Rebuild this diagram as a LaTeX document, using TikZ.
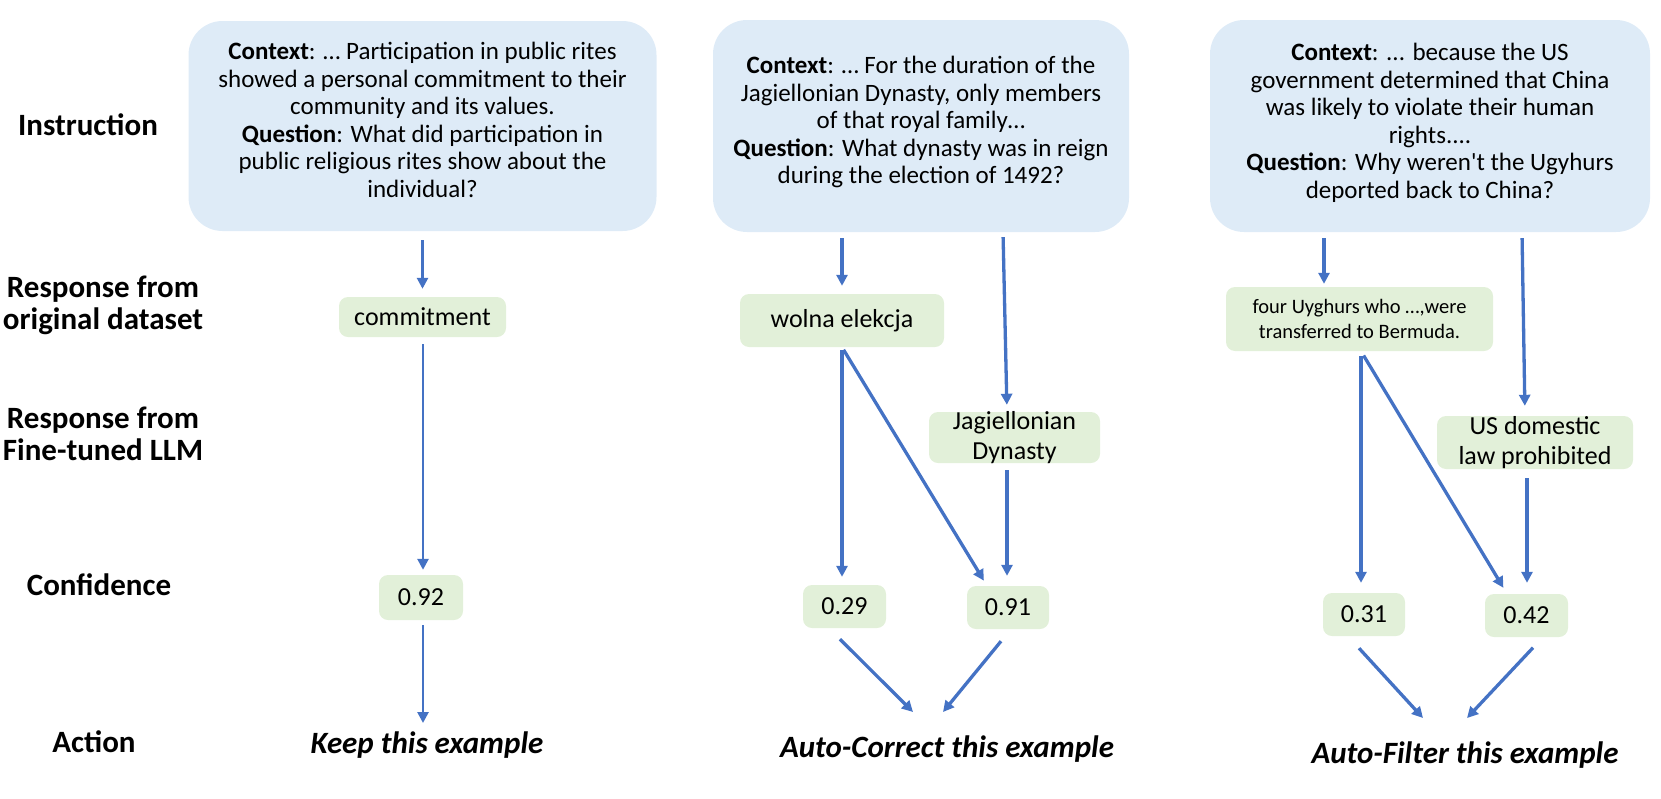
\documentclass[tikz,border=0pt]{standalone}
\usepackage{fontspec}
\setmainfont{Carlito}
\usetikzlibrary{arrows.meta}
\definecolor{qblue}{HTML}{DEEBF7}
\definecolor{agreen}{HTML}{E2F0D9}
\definecolor{arrblue}{HTML}{4472C4}
\begin{document}
\begin{tikzpicture}[x=1pt,y=-1pt,
  arr/.style={draw=arrblue,line width=3.3pt,-{Triangle[length=11pt,width=11pt]}},
  thinarr/.style={arr,line width=2.6pt},
  qbox/.style={fill=qblue,rounded corners=34pt,inner sep=0pt},
  qtext/.style={align=center,inner sep=0pt,font=\fontsize{25}{27.5}\selectfont},
  abox/.style={fill=agreen,rounded corners=9pt,inner sep=0pt,align=center,font=\fontsize{26}{30.5}\selectfont},
  atext/.style={align=center,inner sep=0pt,font=\fontsize{26}{30.5}\selectfont},
  lab/.style={align=center,inner sep=0pt,font=\fontsize{31}{32}\selectfont\bfseries},
  act/.style={inner sep=0pt,font=\fontsize{31}{32}\selectfont\bfseries\itshape},
]
\useasboundingbox (0,0) rectangle (1661,798);

% row labels
\node[lab] (lins) at (88,125) {Instruction};
\node[lab] (lorig) at (103,305) {Response from\\original dataset};
\node[lab] (lft) at (103,434) {Response from\\Fine-tuned LLM};
\node[lab] (lconf) at (99,585) {Confidence};
\node[lab] (lact) at (94,742) {Action};

% column 1
\node[qbox,minimum width=468,minimum height=210,
  label={[qtext,yshift=6pt]center:{\textbf{Context}: … Participation in public rites\\showed a personal commitment to their\\community and its values.\\\textbf{Question}: What did participation in\\public religious rites show about the\\individual?}}] (b1) at (422.5,126) {};
\node[abox,minimum width=167,minimum height=40] (commit) at (422.5,317) {commitment};
\node[abox,minimum width=84,minimum height=45] (c092) at (421,597.5) {0.92};
\node[act] (keep) at (427,745) {Keep this example};

\draw[thinarr,shorten <=9pt,shorten >=8pt] (b1.south) -- (commit.north);
\draw[thinarr,shorten <=7pt,shorten >=5pt] ([xshift=0.5pt]commit.south) -- ([xshift=2pt]c092.north);
\draw[thinarr] ([xshift=2pt,yshift=-5pt]c092.south) -- ([xshift=-4pt,yshift=22pt]keep.center);

% column 2
\node[qbox,minimum width=416,minimum height=212,
  label={[qtext,yshift=4pt]center:{\textbf{Context}: … For the duration of the\\Jagiellonian Dynasty, only members\\of that royal family…\\\textbf{Question}: What dynasty was in reign\\during the election of 1492?}}] (b2) at (921,126) {};
\node[abox,minimum width=204,minimum height=53] (wolna) at (842,320.5) {wolna elekcja};
\node[abox,minimum width=171,minimum height=51,
  label={[atext]center:{Jagiellonian\\Dynasty}}] (jag) at (1014.5,437.5) {};
\node[abox,minimum width=83,minimum height=43] (c029) at (844.5,606.5) {0.29};
\node[abox,minimum width=82,minimum height=43] (c091) at (1008,607.5) {0.91};
\node[act] (corr) at (947,749) {Auto-Correct this example};

\draw[arr,shorten <=6pt,shorten >=8pt] (b2.south -| wolna.north) -- (wolna.north);
\draw[arr,shorten <=5pt,shorten >=7pt] ([xshift=82pt]b2.south) -- ([xshift=-7.5pt]jag.north);
\draw[arr,shorten <=3pt,shorten >=8pt] (wolna.south) -- (wolna.south |- c029.north);
\draw[arr,shorten <=3pt,shorten >=6pt] (wolna.south) -- ([xshift=-21pt]c091.north);
\draw[arr,shorten <=7pt,shorten >=10pt] ([xshift=-7.5pt]jag.south) -- ([xshift=-1pt]c091.north);
\draw[arr] ([xshift=-4.5pt,yshift=-11pt]c029.south) -- ([xshift=-34pt,yshift=37pt]corr.center);
\draw[arr] ([xshift=-7pt,yshift=-12pt]c091.south) -- ([xshift=-4pt,yshift=37pt]corr.center);

% column 3
\node[qbox,minimum width=440,minimum height=212,
  label={[qtext,yshift=3pt]center:{\textbf{Context}: ... because the US\\government determined that China\\was likely to violate their human\\rights....\\\textbf{Question}: Why weren\textquotesingle t the Ugyhurs\\deported back to China?}}] (b3) at (1430,126) {};
\node[abox,minimum width=267,minimum height=64,font=\fontsize{20.5}{25}\selectfont] (four) at (1359.5,319) {four Uyghurs who …,were\\transferred to Bermuda.};
\node[abox,minimum width=196,minimum height=53,
  label={[atext]center:{US domestic\\law prohibited}}] (usd) at (1535,442.5) {};
\node[abox,minimum width=82,minimum height=43] (c031) at (1364,614.5) {0.31};
\node[abox,minimum width=83,minimum height=43] (c042) at (1526.5,615.5) {0.42};
\node[act] (filt) at (1465,755) {Auto-Filter this example};

\draw[arr,shorten <=6pt,shorten >=3pt] ([xshift=-106pt]b3.south) -- ([xshift=-35.5pt]four.north);
\draw[arr,shorten <=6pt,shorten >=10pt] ([xshift=92pt]b3.south) -- ([xshift=-10pt]usd.north);
\draw[arr,shorten <=5pt,shorten >=10pt] ([xshift=1.5pt]four.south) -- ([xshift=-3pt]c031.north);
\draw[arr,shorten <=5pt,shorten >=7pt] ([xshift=1.5pt]four.south) -- ([xshift=-19.5pt]c042.north);
\draw[arr,shorten <=9pt,shorten >=11pt] ([xshift=-8pt]usd.south) -- ([xshift=0.5pt]c042.north);
\draw[arr] ([xshift=-5pt,yshift=-12pt]c031.south) -- ([xshift=-42pt,yshift=37pt]filt.center);
\draw[arr] ([xshift=6.5pt,yshift=-10.5pt]c042.south) -- ([xshift=2pt,yshift=37pt]filt.center);
\end{tikzpicture}
\end{document}
